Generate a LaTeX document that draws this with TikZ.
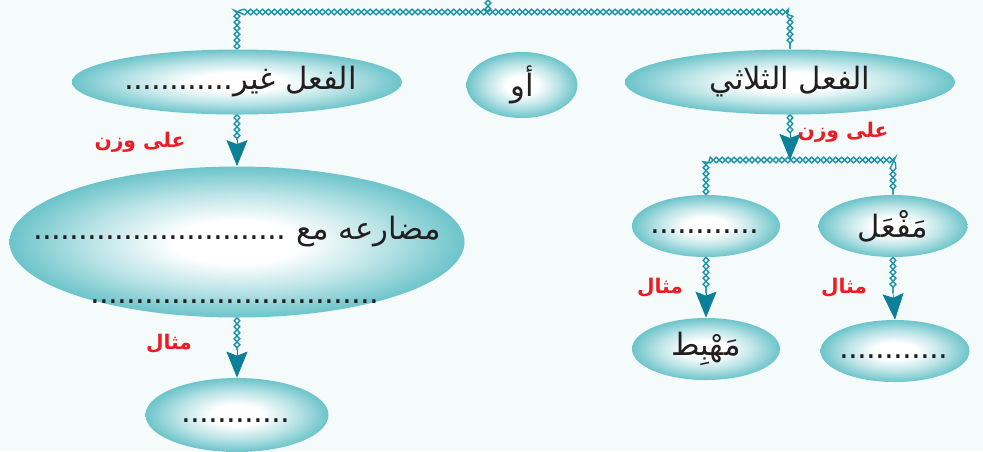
\documentclass[tikz,border=0pt]{standalone}
\usepackage{fontspec}
\newfontfamily\arabicfont[Script=Arabic]{DejaVu Sans}
\TeXXeTstate=1
\usetikzlibrary{shapes.geometric,arrows.meta,decorations.pathmorphing}
\definecolor{bgc}{HTML}{F5FAFB}
\definecolor{ovalc}{HTML}{6CC4CA}
\definecolor{chainc}{HTML}{1B93A8}
\definecolor{tipc}{HTML}{0B8098}
\definecolor{redc}{HTML}{ED1C24}
\definecolor{inkc}{HTML}{231F20}
\pgfdeclareradialshading{ovalglow}{\pgfpoint{0bp}{0bp}}{color(0bp)=(white); color(7bp)=(white); color(16bp)=(ovalc!45!white); color(25bp)=(ovalc); color(50bp)=(ovalc)}
\newcommand\dotrow[1]{\hbox to #1cm{\leaders\hbox to 0.18cm{\hss.\hss}\hfill}}
\tikzset{
  oval/.style 2 args={ellipse, shade, shading=ovalglow,
    minimum width=#1cm, minimum height=#2cm, inner sep=0pt},
  arb/.style={font=\arabicfont\fontsize{17.5}{21}\selectfont, text=inkc},
  redlbl/.style={font=\arabicfont\bfseries\fontsize{11.5}{14}\selectfont, text=redc},
  chainA/.style={chainc, line width=0.8pt, decorate,
    decoration={zigzag, amplitude=1.6pt, segment length=6.8pt}},
  chainB/.style={chainA, decoration={mirror}},
  tip/.style={tipc, -{Stealth[length=0.52cm, width=0.42cm, inset=0.08cm]}}
}
\begin{document}
\begin{tikzpicture}

	\fill[bgc] (0,0) rectangle (19.66,-9.02);
	\useasboundingbox (0,0) rectangle (19.66,-9.02);

	% Ovals
	\node[oval={6.6}{1.3}, label={[arb]center:{\beginR الفعل غير\dotrow{2.32}\endR}}] (ghayr) at (4.74,-1.64) {};
	\node[oval={2.22}{1.32}, label={[arb]center:{\beginR أو\endR}}] (aw) at (10.44,-1.70) {};
	\node[oval={6.6}{1.3}, label={[arb]center:{\beginR الفعل الثلاثي\endR}}] (thulathi) at (15.8,-1.64) {};
	\node[oval={9.1}{3.02}, label={[arb, align=center, yshift=-0.36cm]center:{\beginR مضارعه مع \dotrow{5.06}\endR\\[0.54cm]\dotrow{5.86}}}] (mudari) at (4.74,-4.84) {};
	\node[oval={3.66}{1.48}, label={[arb]center:{\strut\dotrow{2.2}}}] (misal1) at (4.74,-8.30) {};
	\node[oval={2.96}{1.24}, label={[arb]center:{\strut\dotrow{2.2}}}] (wazn2) at (14.12,-4.52) {};
	\node[oval={2.98}{1.24}, label={[arb]center:{\beginR مَفْعَل\endR}}] (mafal) at (17.86,-4.52) {};
	\node[oval={2.96}{1.24}, label={[arb]center:{\beginR مَهْبِط\endR}}] (mahbit) at (14.12,-6.98) {};
	\node[oval={2.98}{1.24}, label={[arb]center:{\strut\dotrow{2.2}}}] (misal2) at (17.90,-7.02) {};

	% Labels
	\node[redlbl] (wazn1) at (2.80,-2.84) {\beginR على وزن\endR};
	\node[redlbl] (wazn3) at (16.86,-2.64) {\beginR على وزن\endR};
	\node[redlbl] (mth1) at (3.38,-6.88) {\beginR مثال\endR};
	\node[redlbl] (mth2) at (13.20,-5.76) {\beginR مثال\endR};
	\node[redlbl] (mth3) at (16.88,-5.76) {\beginR مثال\endR};

	% Chains
	\coordinate (root) at (9.76,0);
	\coordinate (bar) at (9.76,-0.24);
	\coordinate (c1) at (4.74,-2.80);
	\coordinate (c2) at (4.74,-7.00);
	\coordinate (c3) at (15.8,-2.66);
	\coordinate (bar2) at (15.8,-3.20);
	\coordinate (c4) at (14.12,-5.86);
	\coordinate (c5) at (17.86,-5.86);
	\foreach \s in {chainA,chainB}{
		\draw[\s] (root) -- (bar);
		\draw[\s] (ghayr.north) |- (bar) -| (thulathi.north);
		\draw[\s] (ghayr.south) -- (c1);
		\draw[\s] (mudari.south) -- (c2);
		\draw[\s] (thulathi.south) -- (c3);
		\draw[\s] (wazn2.north) |- (bar2) -| (mafal.north);
		\draw[\s] (wazn2.south) -- (c4);
		\draw[\s] (mafal.south) -- (c5);
	}

	% Arrows
	\draw[tip] (c1) -- (mudari.north);
	\draw[tip] (c2) -- (misal1.north);
	\draw[tip] (c3) -- (bar2);
	\draw[tip] (c4) -- (mahbit.north);
	\draw[tip] (c5) -- (misal2.north);

\end{tikzpicture}
\end{document}
